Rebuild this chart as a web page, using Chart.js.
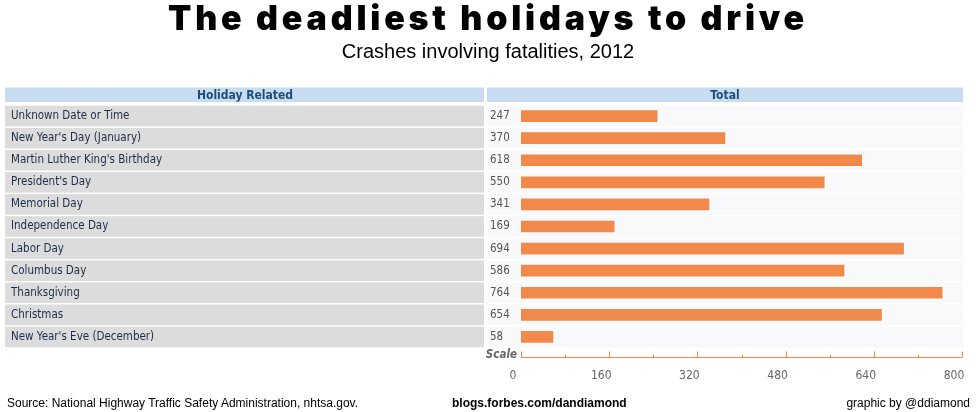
<!DOCTYPE html>
<html>
<head>
<meta charset="utf-8">
<script src="https://cdn.jsdelivr.net/npm/chart.js@4.4.1/dist/chart.umd.min.js"></script>
<style>
  html, body { margin: 0; padding: 0; background: #fff; }
  #wrap { position: relative; width: 976px; height: 412px; overflow: hidden; }
  #chart { position: absolute; left: 0; top: 0; }
  .txt { position: absolute; white-space: nowrap; color: #000; }
  #title { left: 0; width: 976px; top: -3px; text-align: center; font: 900 34px Inter, "DejaVu Sans", sans-serif; letter-spacing: 3.8px; }
  #subtitle { left: 0; width: 976px; top: 40px; text-align: center; font: 20px "Liberation Sans", Arial, sans-serif; }
  .foot { top: 396px; font: 12px "Liberation Sans", Arial, sans-serif; }
</style>
</head>
<body>
<div id="wrap">
  <canvas id="chart" width="976" height="412"></canvas>
  <div class="txt" id="title">The deadliest holidays to drive</div>
  <div class="txt" id="subtitle">Crashes involving fatalities, 2012</div>
  <div class="txt foot" style="left:7px">Source: National Highway Traffic Safety Administration, nhtsa.gov.</div>
  <div class="txt foot" style="left:452px;font-weight:bold">blogs.forbes.com/dandiamond</div>
  <div class="txt foot" style="right:6px">graphic by @ddiamond</div>
</div>
<script>
const holidays = [
    'Unknown Date or Time',
    'New Year\'s Day (January)',
    'Martin Luther King\'s Birthday',
    'President\'s Day',
    'Memorial Day',
    'Independence Day',
    'Labor Day',
    'Columbus Day',
    'Thanksgiving',
    'Christmas',
    'New Year\'s Eve (December)'
];

const totals = [247, 370, 618, 550, 341, 169, 694, 586, 764, 654, 58];

const scaleLabels = [0, 160, 320, 480, 640, 800];
const minorTicks = [80, 240, 400, 560, 720];

const tableFont = '"DejaVu Sans Condensed", "DejaVu Sans", sans-serif';
const barColor = '#f0894a';

// row stripes, header boxes, values and the little "Scale" ruler
const tablePlugin = {
    id: 'table',
    beforeDraw(chart) {
        const ctx = chart.ctx;
        const y = chart.scales.y;
        const half = 10.3;
        ctx.save();
        // header
        ctx.fillStyle = '#c8dcf1';
        ctx.fillRect(5, 87.5, 479, 14.5);
        ctx.fillRect(487, 87.5, 476, 14.5);
        ctx.fillStyle = '#1f4d7a';
        ctx.font = 'bold 12px ' + tableFont;
        ctx.textAlign = 'center';
        ctx.textBaseline = 'middle';
        ctx.fillText('Holiday Related', 245, 95.5);
        ctx.fillText('Total', 725, 95.5);
        // rows
        holidays.forEach((h, i) => {
            const cy = y.getPixelForValue(i);
            ctx.fillStyle = '#dcdcdc';
            ctx.fillRect(5, cy - half, 479, half * 2);
            ctx.fillStyle = '#f8f9fb';
            ctx.fillRect(487, cy - half, 476, half * 2);
        });
        ctx.restore();
    },
    afterDatasetsDraw(chart) {
        const ctx = chart.ctx;
        const meta = chart.getDatasetMeta(0);
        ctx.save();
        ctx.fillStyle = '#555';
        ctx.font = '11.5px ' + tableFont;
        ctx.textAlign = 'left';
        ctx.textBaseline = 'middle';
        meta.data.forEach((bar, i) => {
            ctx.fillText(String(totals[i]), 490, bar.y);
        });
        ctx.restore();
    },
    afterDraw(chart) {
        const ctx = chart.ctx;
        const x = chart.scales.x;
        const lineY = 357.5;
        ctx.save();
        ctx.strokeStyle = barColor;
        ctx.lineWidth = 1;
        ctx.beginPath();
        ctx.moveTo(x.getPixelForValue(0), lineY);
        ctx.lineTo(x.getPixelForValue(800), lineY);
        scaleLabels.forEach(v => {
            const px = Math.round(x.getPixelForValue(v)) + 0.5;
            ctx.moveTo(px, lineY);
            ctx.lineTo(px, lineY - 6);
        });
        minorTicks.forEach(v => {
            const px = Math.round(x.getPixelForValue(v)) + 0.5;
            ctx.moveTo(px, lineY);
            ctx.lineTo(px, lineY - 3);
        });
        ctx.stroke();
        ctx.fillStyle = '#666';
        ctx.font = 'italic bold 11.5px ' + tableFont;
        ctx.textAlign = 'right';
        ctx.textBaseline = 'middle';
        ctx.fillText('Scale', 517, 355.5);
        ctx.restore();
    }
};

new Chart(document.getElementById('chart'), {
    type: 'bar',
    data: {
        labels: holidays,
        datasets: [{
            data: totals,
            backgroundColor: barColor,
            borderWidth: 0,
            barThickness: 11
        }]
    },
    options: {
        indexAxis: 'y',
        responsive: false,
        animation: false,
        layout: {
            padding: { left: 11, right: 14, top: 105, bottom: 24 }
        },
        plugins: {
            legend: { display: false },
            tooltip: { enabled: false }
        },
        scales: {
            x: {
                min: 0,
                max: 800,
                afterBuildTicks(scale) {
                    scale.ticks = scaleLabels.map(v => ({ value: v }));
                },
                afterFit(scale) {
                    scale.height = 40;
                    scale.paddingLeft = 0;
                    scale.paddingRight = 0;
                },
                grid: { display: false, drawTicks: false },
                border: { display: false },
                ticks: {
                    padding: 21,
                    labelOffset: -8,
                    color: '#666',
                    font: { family: tableFont, size: 12 }
                }
            },
            y: {
                afterFit(scale) {
                    scale.width = 510;
                },
                grid: { display: false, drawTicks: false },
                border: { display: false },
                ticks: {
                    crossAlign: 'far',
                    color: '#1c2c48',
                    font: { family: tableFont, size: 11.5 }
                }
            }
        }
    },
    plugins: [tablePlugin]
});
</script>
</body>
</html>
